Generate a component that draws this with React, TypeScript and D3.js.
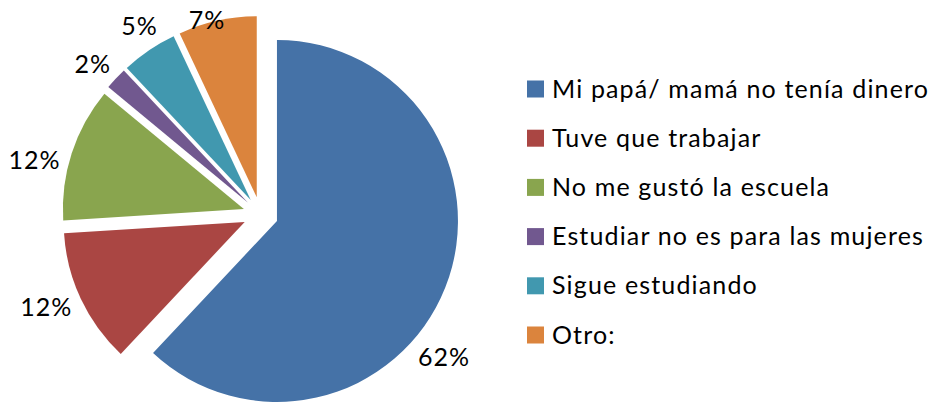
import { useRef, useEffect } from "react";
import * as d3 from "d3";

const categories = [
  "Mi papá/ mamá no tenía dinero",
  "Tuve que trabajar",
  "No me gustó la escuela",
  "Estudiar no es para las mujeres",
  "Sigue estudiando",
  "Otro:"
];
const percents = [62, 12, 12, 2, 5, 7];
const colors = ["#4572A7", "#AA4643", "#89A54E", "#71588F", "#4198AF", "#DB843D"];

export default function App() {
  const ref = useRef<SVGSVGElement>(null);

  useEffect(() => {
    document.body.style.margin = "0";
    const svg = d3.select(ref.current);
    svg.selectAll("*").remove();

    const width = 934;
    const height = 406;
    const font = "Lato, 'Open Sans', sans-serif";
    const cx = 260.6;
    const cy = 214.5;
    const radius = 181;
    const explode = 17.6;
    // Excel's "best fit" label placement drifts a little off the bisector
    const labelShiftDeg = [17.3, 2.2, -4.6, -1.2, 1.7, -1.6];

    svg.attr("width", width).attr("height", height);
    svg.append("rect").attr("width", width).attr("height", height).attr("fill", "#fff");

    const data = categories.map((c, i) => ({ name: c, value: percents[i], color: colors[i] }));

    const pie = d3.pie<any>().sort(null).value(d => d.value);
    const arcs = pie(data);
    const arc = d3.arc<any>().innerRadius(0).outerRadius(radius);

    const g = svg.append("g").attr("transform", `translate(${cx},${cy})`);

    arcs.forEach((a, i) => {
      const mid = (a.startAngle + a.endAngle) / 2;
      const dx = Math.sin(mid) * explode;
      const dy = -Math.cos(mid) * explode;

      g.append("path")
        .attr("d", arc(a))
        .attr("transform", `translate(${dx},${dy})`)
        .attr("fill", a.data.color);

      const labelAngle = mid + (labelShiftDeg[i] * Math.PI) / 180;
      const text = g.append("text")
        .text(`${a.data.value}%`)
        .attr("font-family", font)
        .attr("font-size", 25)
        .attr("letter-spacing", 1)
        .attr("fill", "#000")
        .attr("text-anchor", "middle")
        .attr("dominant-baseline", "central");
      const bb = (text.node() as SVGTextElement).getBBox();
      const s = Math.abs(Math.sin(labelAngle));
      const c = Math.abs(Math.cos(labelAngle));
      const dist = radius + 6 + (bb.width / 2) * s + 12 * c;
      const lx = dx + Math.sin(labelAngle) * dist;
      let ly = dy - Math.cos(labelAngle) * dist;
      ly = Math.max(ly, 19 - cy);
      text.attr("x", lx).attr("y", ly);
    });

    // legend
    const legend = svg.append("g").attr("transform", "translate(527,89)");
    const rowH = 49.2;
    data.forEach((d, i) => {
      const row = legend.append("g").attr("transform", `translate(0,${i * rowH})`);
      row.append("rect")
        .attr("x", 0)
        .attr("y", -8.5)
        .attr("width", 17)
        .attr("height", 17)
        .attr("fill", d.color);
      row.append("text")
        .attr("x", 25)
        .attr("y", 8.5)
        .attr("font-family", font)
        .attr("font-size", 25)
        .attr("letter-spacing", 1.15)
        .attr("fill", "#000")
        .text(d.name);
    });
  }, []);

  return <svg ref={ref}></svg>;
}
